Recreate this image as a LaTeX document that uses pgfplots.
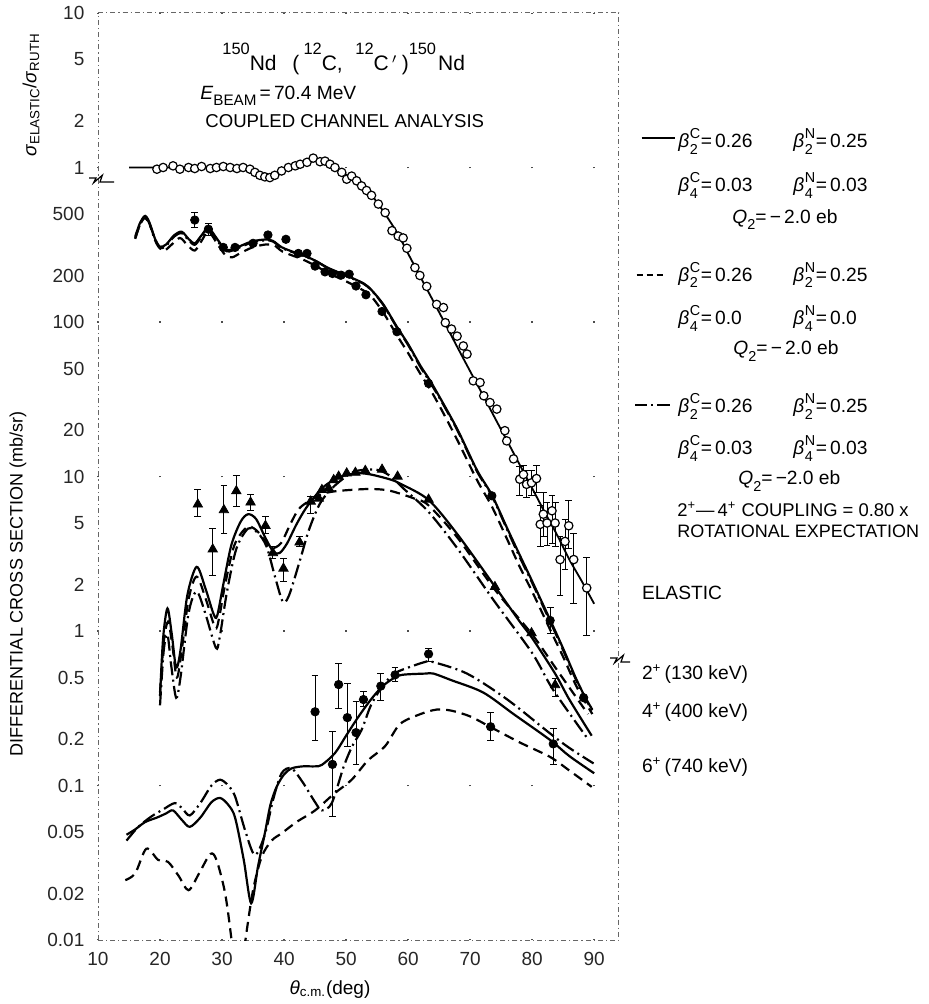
\documentclass[border=0pt]{standalone}
\usepackage{fontspec}
\setmainfont{Liberation Sans}
\usepackage{pgfplots}
\usepackage{pgfplotstable}
\pgfplotsset{compat=1.18}

% beta with stacked superscript and subscript
\newcommand{\bet}[2]{\textit{β}\hspace{0.3pt}\rlap{\raisebox{4.6pt}{\fontsize{7.2}{7}\selectfont #1}}\makebox[5.4pt][l]{\raisebox{-3.2pt}{\fontsize{7.2}{7}\selectfont #2}}}
% Q with lowered index
\newcommand{\qtwo}{\textit{Q}\raisebox{-3.2pt}{\fontsize{7.2}{7}\selectfont 2}}
% raised mass numbers in the reaction title
\newcommand{\sups}[1]{\raisebox{8pt}{\fontsize{8.2}{8}\selectfont #1}}

% ---------------- elastic (ratio to Rutherford) ----------------
\pgfplotstableread{
t r
19.5 0.975
20.5 1.00
22.1 1.025
23.2 0.975
24.6 1.00
25.6 0.985
26.7 1.015
28.1 0.985
29.1 1.00
30.2 1.015
31.3 1.00
32.4 0.985
33.4 1.00
34.5 0.975
35.3 0.93
36.1 0.89
36.9 0.87
37.7 0.86
38.5 0.89
39.6 0.95
40.7 1.00
41.8 1.025
42.6 1.05
43.7 1.08
44.7 1.15
45.8 1.09
46.6 1.10
47.4 1.05
48.2 1.00
49.3 0.93
50.1 0.84
50.9 0.88
51.7 0.82
52.5 0.76
53.3 0.71
54.1 0.66
55.2 0.58
56.3 0.51
57.4 0.39
58.4 0.36
59.2 0.35
59.8 0.30
61.1 0.225
61.9 0.20
63.0 0.17
64.6 0.13
65.7 0.124
66.0 0.099
67.0 0.090
67.9 0.081
68.9 0.070
69.5 0.062
70.5 0.0416
71.6 0.0406
72.2 0.0333
73.2 0.0301
74.3 0.0273
75.6 0.0198
75.9 0.0170
77.0 0.0130
}\elpts

\pgfplotstableread{
t r lo hi
78.0 0.0096 0.0075 0.0117
78.6 0.0103 0.0091 0.0118
79.1 0.0089 0.0073 0.0109
79.9 0.0091 0.0075 0.0110
80.7 0.0097 0.0079 0.0118
81.3 0.0049 0.0035 0.0065
81.8 0.0057 0.0041 0.0079
82.4 0.0050 0.0036 0.0068
83.2 0.0060 0.0037 0.0075
83.7 0.0050 0.0035 0.0068
84.5 0.0029 0.0017 0.0041
85.3 0.0038 0.0025 0.0053
85.9 0.0048 0.0034 0.0070
86.7 0.0029 0.0015 0.0043
88.8 0.0019 0.00094 0.0030
}\elerr

\pgfplotstableread{
t r
15 1.0
20 1.0
25 1.0
30 1.0
33 0.99
35 0.95
37 0.88
38 0.87
39 0.91
40.5 0.98
42 1.04
44 1.10
45.5 1.12
47 1.08
48.5 0.99
50 0.90
52 0.79
54 0.67
56 0.52
58.2 0.38
60 0.277
62 0.195
64 0.138
66 0.097
68 0.068
70 0.048
72 0.034
74 0.0239
76 0.0169
78 0.0119
80 0.0084
82 0.0059
84 0.0042
86 0.0029
88 0.0021
90 0.0015
}\elfit

% ---------------- 2+ (130 keV) ----------------
\pgfplotstableread{
t v
16.0 357
16.8 440
17.6 486
18.3 440
19.2 345
20.0 307
21.0 318
22.3 365
23.5 384
24.6 345
25.6 323
26.6 360
27.8 405
29.2 345
30.3 300
31.2 292
32.5 305
34.8 332
37.0 342
38.2 335
39.6 305
41.5 284
42.9 272
45.0 250
47.2 223
50.4 197
52.8 178
54.1 161
56.0 130
58.2 93
60.0 72
62.0 52
63.5 42
65.4 31
68.0 20
71.1 11
73.5 7.6
76.0 4.6
78.0 3.1
80.0 2.1
82.9 1.18
85.0 0.77
87.0 0.50
88.5 0.376
89.7 0.31
}\twoA

\pgfplotstableread{
t v
16.0 350
16.8 430
17.6 470
18.4 420
19.4 330
20.5 288
21.8 315
23.2 350
24.4 315
25.6 290
26.7 335
27.8 385
29.3 318
30.5 272
31.6 262
33.0 280
35.0 305
37.2 318
38.5 312
39.8 285
42.9 255
45.0 232
47.2 207
50.4 180
52.8 160
54.1 146
56.0 115
58.2 82
60.0 63
62.0 46
63.5 37
65.4 27
68.0 17
71.1 9.5
73.5 6.4
76.0 3.9
78.0 2.6
80.0 1.8
82.9 1.02
85.0 0.68
87.0 0.45
88.5 0.35
89.7 0.29
}\twoB

\pgfplotstableread{
t v
16.0 345
16.8 430
17.6 478
18.3 432
19.2 338
20.0 300
21.0 312
22.3 358
23.5 376
24.6 338
25.6 316
26.6 352
27.8 398
29.2 338
30.3 294
31.2 286
32.5 300
34.8 327
37.0 338
38.2 332
39.6 302
41.5 282
42.9 270
45.0 249
47.2 222
50.4 196
52.8 177
54.1 160
56.0 129
58.2 92
60.0 71
62.0 51
63.5 41
65.4 30.5
68.0 19.7
71.1 10.8
73.5 7.5
76.0 4.5
78.0 3.0
80.0 2.05
82.9 1.15
85.0 0.75
87.0 0.49
88.5 0.37
89.7 0.305
}\twoC

\pgfplotstableread{
t v
30.2 304
32.1 304
35.0 323
37.4 366
40.3 343
42.3 278
43.7 278
45.0 230
46.6 211
47.8 206
49.2 201
50.5 204
51.6 171
53.2 150
55.8 117
58.2 86.5
63.3 40
73.5 7.5
88.3 0.37
}\twopts

\pgfplotstableread{
t v lo hi
25.6 457 407 513
27.8 399 366 436
82.9 1.17 0.966 1.43
}\twoerr

% ---------------- 4+ (400 keV) ----------------
\pgfplotstableread{
t v
20.0 0.38
20.5 0.9
21.2 1.4
21.9 0.95
22.6 0.58
23.3 0.75
24.4 1.7
25.9 2.6
27.3 1.9
28.6 1.3
29.2 1.25
30.2 2.0
31.5 3.6
33.0 5.1
34.2 5.7
35.5 5.3
37.0 4.0
38.3 3.25
39.3 3.2
40.5 3.7
42.0 4.9
43.6 6.3
46.0 8.3
48.0 9.5
50.0 10.2
52.0 10.5
54.0 10.3
57.0 9.6
58.7 9.0
63.3 7.05
68.0 4.2
74.0 1.94
78.0 1.15
80.0 0.90
83.7 0.53
86.0 0.36
89.6 0.21
}\fourA

\pgfplotstableread{
t v
20.0 0.40
20.6 0.85
21.3 1.15
22.0 0.8
22.7 0.5
23.4 0.7
24.6 1.6
25.9 2.25
27.4 1.6
28.9 1.05
29.5 1.2
30.5 2.0
32.0 3.6
34.0 4.7
35.5 4.5
37.0 3.8
38.0 3.43
39.5 3.7
41.0 4.9
42.6 6.3
45.8 7.6
48.0 8.0
51.0 8.2
54.0 8.3
57.0 8.1
61.0 7.2
63.3 6.5
68.0 4.0
74.0 1.85
80.0 0.95
84.0 0.56
89.0 0.29
}\fourB

\pgfplotstableread{
t v
20.0 0.33
20.6 0.75
21.2 0.95
21.8 0.6
22.6 0.37
23.3 0.5
24.6 1.3
25.9 1.8
27.3 1.3
29.0 0.78
29.6 0.9
30.8 1.8
32.3 3.4
34.2 4.6
35.8 4.3
37.2 3.5
38.6 2.2
39.8 1.55
40.8 1.7
42.6 2.9
44.0 4.5
45.8 6.7
48.0 8.6
51.2 10.7
54.4 11.1
56.0 10.7
57.5 9.8
59.2 8.4
63.3 5.9
68.0 3.4
73.8 1.58
80.0 0.72
83.4 0.415
89.1 0.197
}\fourC

\pgfplotstableread{
t v
45.6 7.2
46.1 8.2
47.2 8.4
48.0 9.5
48.8 10.0
50.1 10.5
51.5 10.6
53.1 10.9
55.8 11.1
58.3 10.0
63.3 7.1
74.0 1.93
79.9 0.97
}\fourpts

\pgfplotstableread{
t v lo hi
26.1 6.6 5.5 8.2
28.5 3.38 2.30 4.64
30.3 6.07 4.31 8.8
32.3 8.05 6.4 10.1
34.6 6.8 6.07 7.6
37.0 4.8 4.29 5.5
38.2 3.2 2.95 3.52
39.9 2.54 2.08 2.96
42.5 3.75 3.5 4.1
44.3 6.9 5.8 7.4
83.7 0.447 0.376 0.494
}\fourerr

% ---------------- 6+ (740 keV) ----------------
\pgfplotstableread{
t v
14.6 0.048
16.0 0.052
17.6 0.058
19.5 0.062
21.0 0.066
22.1 0.069
23.5 0.060
24.8 0.054
26.5 0.062
28.3 0.078
29.7 0.083
31.0 0.075
32.1 0.062
33.5 0.033
34.7 0.0173
35.8 0.030
36.9 0.049
37.8 0.075
38.8 0.098
40.0 0.118
41.2 0.129
43.0 0.133
45.0 0.133
46.1 0.136
48.2 0.162
50.0 0.21
52.0 0.279
54.0 0.36
55.8 0.436
57.5 0.49
59.0 0.52
62.7 0.53
64.1 0.53
67.0 0.48
72.1 0.40
77.0 0.29
82.9 0.197
86.0 0.155
90.0 0.12
}\sixA

\pgfplotstableread{
t v
14.4 0.0244
16.0 0.027
17.8 0.039
19.7 0.033
21.3 0.032
23.0 0.026
24.6 0.021
26.3 0.027
28.1 0.036
29.1 0.033
30.5 0.020
31.6 0.0095
32.6 0.004
33.7 0.0095
35.0 0.021
36.4 0.0346
38.0 0.044
39.6 0.049
42.0 0.058
45.0 0.069
48.0 0.088
50.9 0.109
53.5 0.145
56.3 0.18
58.7 0.25
62.0 0.29
64.6 0.31
67.0 0.305
70.0 0.28
73.2 0.24
78.0 0.19
82.9 0.153
86.0 0.125
89.6 0.098
}\sixB

\pgfplotstableread{
t v
14.6 0.044
16.5 0.054
18.6 0.063
20.5 0.070
22.4 0.077
23.6 0.071
24.8 0.064
26.5 0.077
28.3 0.100
29.7 0.109
31.0 0.100
32.1 0.085
33.8 0.050
35.3 0.0355
36.9 0.048
38.2 0.080
39.6 0.120
41.2 0.129
43.0 0.105
45.0 0.078
46.1 0.069
47.7 0.077
49.6 0.132
51.0 0.18
52.5 0.229
54.0 0.33
55.8 0.436
57.5 0.52
59.0 0.56
62.7 0.63
64.0 0.63
69.5 0.53
76.0 0.36
82.9 0.217
86.0 0.175
89.9 0.139
}\sixC

\pgfplotstableread{
t v lo hi
45.0 0.30 0.197 0.519
47.8 0.137 0.063 0.223
48.8 0.45 0.316 0.618
50.2 0.275 0.178 0.458
51.6 0.22 0.136 0.348
52.8 0.36 0.324 0.405
55.6 0.44 0.357 0.532
57.9 0.52 0.47 0.58
63.3 0.71 0.634 0.773
73.3 0.24 0.197 0.296
83.4 0.186 0.136 0.235
}\sixerr

\tikzset{
  fitA/.style={black, line width=1.1pt, smooth, tension=0.5},
  fitB/.style={black, line width=1.1pt, smooth, tension=0.5, dash pattern=on 5pt off 3pt},
  fitC/.style={black, line width=1.1pt, smooth, tension=0.5, dash pattern=on 7pt off 2.2pt on 1pt off 2.2pt},
}
\pgfplotsset{
  ebar/.style={/pgfplots/error bars/.cd, y dir=both, y explicit,
    error bar style={line width=0.45pt, black},
    error mark options={line width=0.45pt, mark size=1.7pt, rotate=90}},
}

\begin{document}
\begin{tikzpicture}
\useasboundingbox (-49pt,-32pt) rectangle (415.5pt,470pt);
\begin{axis}[
  at={(0pt,0pt)}, anchor=south west,
  scale only axis, width=260.5pt, height=463.5pt,
  xmin=10, xmax=94,
  ymode=log, log basis y=10, ymin=0.01, ymax=10000,
  xtick={10,20,...,90},
  ytick={0.01,0.02,0.05,0.1,0.2,0.5,1,2,5,10,20,50,100,200,500,1000,2000,5000,10000},
  yticklabels={0.01,0.02,0.05,0.1,0.2,0.5,1,2,5,10,20,50,100,200,500,1,2,5,10},
  minor ytick={},
  /pgf/number format/assume math mode=true,
  tick label style={font=\fontsize{9.5}{11}\selectfont, black!85},
  xticklabel style={yshift=-2.4pt},
  yticklabel style={xshift=-3.3pt},
  axis line style={black!60, line width=0.5pt, dash pattern=on 2.5pt off 1.5pt on 0.6pt off 1.5pt},
  tick style={draw=none},
  xmajorgrids=true, ymajorgrids=false,
  major grid style={black!70, line width=1pt, dash pattern=on 0.8pt off 76.45pt, dash phase=0.4pt},
]
% elastic
\addplot[black, line width=0.9pt, smooth, tension=0.5] table[x=t, y expr=\thisrow{r}*1000] {\elfit};
% 2+
\addplot[fitB] table[x=t, y=v] {\twoB};
\addplot[fitC] table[x=t, y=v] {\twoC};
\addplot[fitA] table[x=t, y=v] {\twoA};
% 4+
\addplot[fitB] table[x=t, y=v] {\fourB};
\addplot[fitC] table[x=t, y=v] {\fourC};
\addplot[fitA] table[x=t, y=v] {\fourA};
% 6+
\addplot[fitB] table[x=t, y=v] {\sixB};
\addplot[fitC] table[x=t, y=v] {\sixC};
\addplot[fitA] table[x=t, y=v] {\sixA};

% measured points
\addplot[only marks, mark=*, mark size=2.1pt, mark options={fill=white, draw=black, line width=0.6pt}]
  table[x=t, y expr=\thisrow{r}*1000] {\elpts};
\addplot[only marks, mark=*, mark size=2.1pt, mark options={fill=white, draw=black, line width=0.6pt}, ebar]
  table[x=t, y expr=\thisrow{r}*1000,
        y error plus expr=(\thisrow{hi}-\thisrow{r})*1000,
        y error minus expr=(\thisrow{r}-\thisrow{lo})*1000] {\elerr};

\addplot[only marks, mark=*, mark size=2.1pt, black] table[x=t, y=v] {\twopts};
\addplot[only marks, mark=*, mark size=2.1pt, black, ebar]
  table[x=t, y=v, y error plus expr=\thisrow{hi}-\thisrow{v},
        y error minus expr=\thisrow{v}-\thisrow{lo}] {\twoerr};

\addplot[only marks, mark=triangle*, mark size=2.7pt, black] table[x=t, y=v] {\fourpts};
\addplot[only marks, mark=triangle*, mark size=2.7pt, black, ebar]
  table[x=t, y=v, y error plus expr=\thisrow{hi}-\thisrow{v},
        y error minus expr=\thisrow{v}-\thisrow{lo}] {\fourerr};

\addplot[only marks, mark=*, mark size=2.1pt, black, ebar]
  table[x=t, y=v, y error plus expr=\thisrow{hi}-\thisrow{v},
        y error minus expr=\thisrow{v}-\thisrow{lo}] {\sixerr};
\end{axis}

% axis breaks
\draw[black, line width=0.6pt] (-4.5pt,381pt) -- (-1pt,381pt) -- (-2.2pt,378.6pt) -- (2.2pt,382.4pt) -- (1pt,379pt) -- (8pt,379pt);
\draw[black, line width=0.6pt] (256pt,141pt) -- (259.5pt,141pt) -- (258.3pt,138.6pt) -- (262.7pt,142.4pt) -- (261.5pt,139pt) -- (266pt,139pt);

% axis titles
\node[rotate=90, font=\fontsize{9.5}{11}\selectfont] at (-33.5pt,422.5pt) {\textit{σ}\textsubscript{ELASTIC}/\textit{σ}\textsubscript{RUTH}};
\node[rotate=90, font=\fontsize{9}{11}\selectfont] at (-40pt,178pt) {DIFFERENTIAL CROSS SECTION (mb/sr)};
\node[font=\fontsize{9.5}{11}\selectfont] at (116pt,-25pt) {\textit{θ}\textsubscript{c.m.}(deg)};

% reaction and analysis
\node[anchor=base west, inner sep=0pt, font=\fontsize{10.5}{12}\selectfont] at (62pt,434.5pt)
  {\sups{150}Nd\hspace{0.75em}(\hspace{0.2em}\sups{12}C,\hspace{0.6em}\sups{12}C\hspace{0.15em}$'$\hspace{0.2em})\sups{150}\hspace{0.1em}Nd};
\node[anchor=base west, inner sep=0pt, font=\fontsize{9.6}{11}\selectfont] at (51pt,420pt)
  {\textit{E}\raisebox{-2.6pt}{\fontsize{7.6}{8}\selectfont BEAM}\,=\,70.4 MeV};
\node[anchor=base west, inner sep=0pt, font=\fontsize{9.3}{10}\selectfont] at (53.5pt,406pt)
  {COUPLED CHANNEL ANALYSIS};

% line-style key
\begin{scope}[font=\fontsize{9.6}{11}\selectfont]
\draw[black, line width=1.1pt] (271.8pt,400.8pt) -- (288.5pt,400.8pt);
\node[anchor=base west, inner sep=0pt] at (290pt,396pt) {\bet{C}{2}=\,0.26};
\node[anchor=base west, inner sep=0pt] at (347.5pt,396pt) {\bet{N}{2}=\,0.25};
\node[anchor=base west, inner sep=0pt] at (290pt,374pt) {\bet{C}{4}=\,0.03};
\node[anchor=base west, inner sep=0pt] at (347.5pt,374pt) {\bet{N}{4}=\,0.03};
\node[anchor=base west, inner sep=0pt] at (317pt,358.2pt) {\qtwo=\,−\,2.0 eb};

\draw[black, line width=1.1pt, dash pattern=on 3.3pt off 1.7pt] (269.3pt,332.5pt) -- (282.7pt,332.5pt);
\node[anchor=base west, inner sep=0pt] at (290pt,329.2pt) {\bet{C}{2}=\,0.26};
\node[anchor=base west, inner sep=0pt] at (347.5pt,329.2pt) {\bet{N}{2}=\,0.25};
\node[anchor=base west, inner sep=0pt] at (290pt,307.5pt) {\bet{C}{4}=\,0.0};
\node[anchor=base west, inner sep=0pt] at (347.5pt,307.5pt) {\bet{N}{4}=\,0.0};
\node[anchor=base west, inner sep=0pt] at (317.5pt,292.5pt) {\qtwo=\,−\,2.0 eb};

\draw[black, line width=1.1pt] (268.5pt,267.5pt) -- (274.3pt,267.5pt);
\draw[black, line width=1.1pt] (276.6pt,267.5pt) -- (277.4pt,267.5pt);
\draw[black, line width=1.1pt] (279.6pt,267.5pt) -- (286pt,267.5pt);
\node[anchor=base west, inner sep=0pt] at (290pt,263.5pt) {\bet{C}{2}=\,0.26};
\node[anchor=base west, inner sep=0pt] at (347.5pt,263.5pt) {\bet{N}{2}=\,0.25};
\node[anchor=base west, inner sep=0pt] at (290pt,242.5pt) {\bet{C}{4}=\,0.03};
\node[anchor=base west, inner sep=0pt] at (347.5pt,242.5pt) {\bet{N}{4}=\,0.03};
\node[anchor=base west, inner sep=0pt] at (320pt,227.5pt) {\qtwo=\,−2.0 eb};
\node[anchor=base west, inner sep=0pt, font=\fontsize{9.2}{11}\selectfont] at (289.5pt,211.5pt) {2\textsuperscript{+}—\,4\textsuperscript{+} COUPLING = 0.80 x};
\node[anchor=base west, inner sep=0pt, font=\fontsize{9}{11}\selectfont] at (289.5pt,201pt) {ROTATIONAL EXPECTATION};

% state labels
\node[anchor=base west, inner sep=0pt] at (271.8pt,170pt) {ELASTIC};
\node[anchor=base west, inner sep=0pt] at (271.8pt,130pt) {2\textsuperscript{+}\,(130 keV)};
\node[anchor=base west, inner sep=0pt] at (271.8pt,111pt) {4\textsuperscript{+}\,(400 keV)};
\node[anchor=base west, inner sep=0pt] at (271.8pt,83.5pt) {6\textsuperscript{+}\,(740 keV)};
\end{scope}
\end{tikzpicture}
\end{document}
